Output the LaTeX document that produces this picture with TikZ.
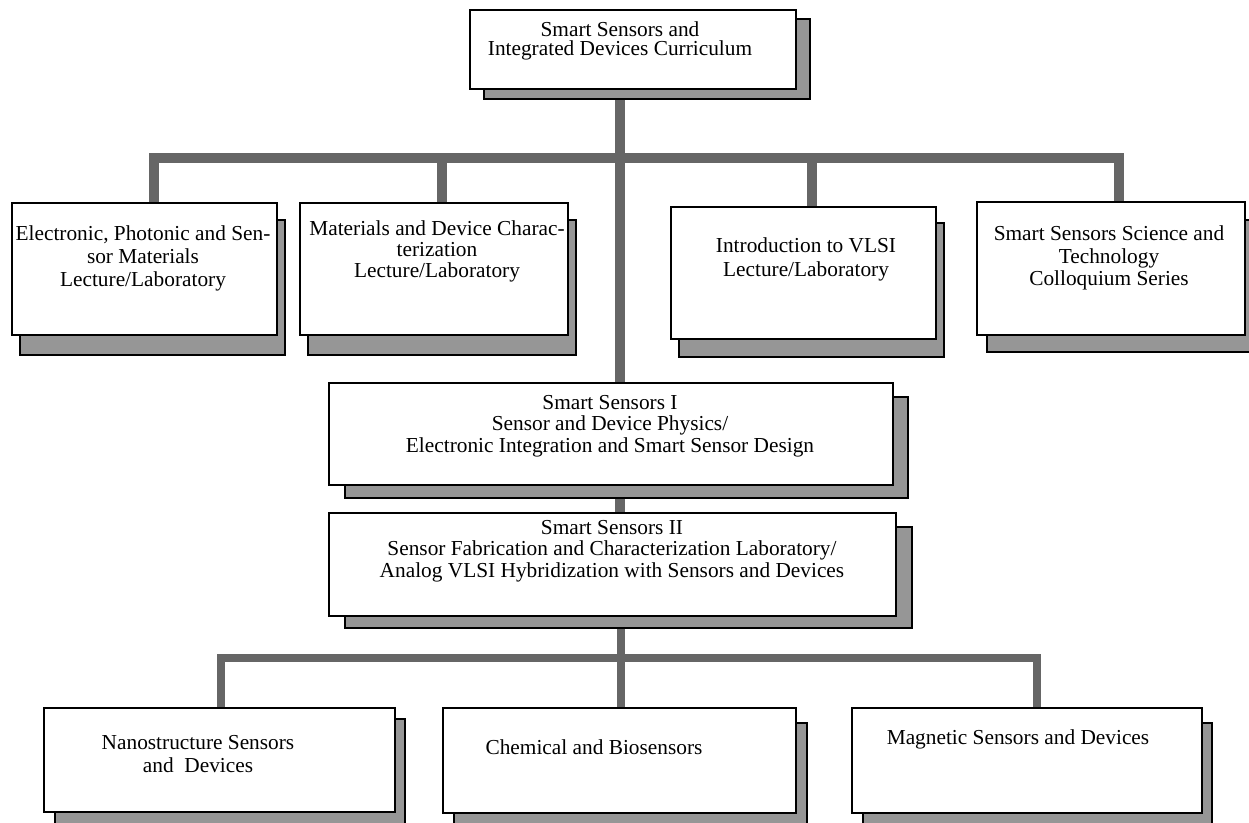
\documentclass[tikz,border=0pt]{standalone}
\usepackage{fontspec}
\setmainfont{Liberation Serif}
\usetikzlibrary{fit}
\pgfdeclarelayer{connlayer}
\pgfdeclarelayer{shadlayer}
\pgfsetlayers{connlayer,shadlayer,main}
\definecolor{conngray}{RGB}{102,102,102}
\definecolor{shadgray}{RGB}{150,150,150}
\tikzset{
  box/.style={draw=black, line width=1.5pt, fill=white, inner sep=0pt, outer sep=0pt, rectangle},
  shad/.style={draw=black, line width=1.5pt, fill=shadgray},
  conn/.style={draw=conngray, line width=7.5pt},
  connb/.style={draw=conngray, line width=6.2pt},
  txt/.style={align=center, anchor=north, inner sep=0pt, font=\fontsize{16}{#1}\selectfont},
}
\begin{document}
\begin{tikzpicture}[x=0.75pt,y=-0.75pt]
\useasboundingbox (0,0) rectangle (1249,823);
% boxes
\node[box, fit={(470,10)(796,89)}] (top) {};
\node[box, fit={(12,203)(277,335)}] (e1) {};
\node[box, fit={(300,203)(568,335)}] (e2) {};
\node[box, fit={(671,207)(936,339)}] (e3) {};
\node[box, fit={(977,202)(1245,335)}] (e4) {};
\node[box, fit={(329,383)(893,485)}] (s1) {};
\node[box, fit={(329,513)(896,616)}] (s2) {};
\node[box, fit={(44,708)(395,812)}] (b1) {};
\node[box, fit={(443,708)(796,813)}] (b2) {};
\node[box, fit={(852,708)(1202,813)}] (b3) {};
% shadows
\begin{pgfonlayer}{shadlayer}
\draw[shad] ([shift={(14,9)}]top.north west) rectangle ([shift={(14,10)}]top.south east);
\draw[shad] ([shift={(8,17)}]e1.north west) rectangle ([shift={(8,20)}]e1.south east);
\draw[shad] ([shift={(8,17)}]e2.north west) rectangle ([shift={(8,20)}]e2.south east);
\draw[shad] ([shift={(8,16)}]e3.north west) rectangle ([shift={(8,18)}]e3.south east);
\draw[shad] ([shift={(10,18)}]e4.north west) rectangle ([shift={(10,17)}]e4.south east);
\draw[shad] ([shift={(16,14)}]s1.north west) rectangle ([shift={(15,13)}]s1.south east);
\draw[shad] ([shift={(16,14)}]s2.north west) rectangle ([shift={(16,12)}]s2.south east);
\draw[shad] ([shift={(11,11)}]b1.north west) rectangle ([shift={(10,13)}]b1.south east);
\draw[shad] ([shift={(11,15)}]b2.north west) rectangle ([shift={(11,13)}]b2.south east);
\draw[shad] ([shift={(11,15)}]b3.north west) rectangle ([shift={(10,13)}]b3.south east);
\end{pgfonlayer}
% connectors
\coordinate (j1) at (620,158.5);
\coordinate (j2) at (621,658);
\coordinate (x1) at (154,158.5);
\coordinate (x2) at (442,158.5);
\coordinate (x3) at (812,158.5);
\coordinate (x4) at (1119,158.5);
\coordinate (y1) at (221,658);
\coordinate (y3) at (1037,658);
\begin{pgfonlayer}{connlayer}
\draw[conn] (top.south -| j1) -- (s1.north -| j1);
\draw[conn] (e1.north -| x1) |- (j1) -| (e4.north -| x4);
\draw[conn] (e2.north -| x2) -- (x2);
\draw[conn] (e3.north -| x3) -- (x3);
\draw[conn] (s1.south -| j1) -- (s2.north -| j1);
\draw[connb] (s2.south -| j2) -- (j2);
\draw[connb] (b1.north -| y1) |- (j2) -| (b3.north -| y3);
\draw[connb] (b2.north -| j2) -- (j2);
\end{pgfonlayer}
% texts
\node[txt=14.25pt] (ttop) at (620,21.7) {Smart Sensors and\\Integrated Devices Curriculum};
\node[txt=17.25pt] (te1) at (143,225.7) {Electronic, Photonic and Sen-\\sor Materials\\Lecture/Laboratory};
\node[txt=15.75pt] (te2) at (437,220.7) {Materials and Device Charac-\\terization\\Lecture/Laboratory};
\node[txt=18pt] (te3) at (806,237.7) {Introduction to VLSI\\Lecture/Laboratory};
\node[txt=16.9pt] (te4) at (1109,225.7) {Smart Sensors Science and\\Technology\\Colloquium Series};
\node[txt=16.1pt] (ts1) at (610,394.7) {Smart Sensors I\\Sensor and Device Physics/\\Electronic Integration and Smart Sensor Design};
\node[txt=16.1pt] (ts2) at (612,519.7) {Smart Sensors II\\Sensor Fabrication and Characterization Laboratory/\\Analog VLSI Hybridization with Sensors and Devices};
\node[txt=17.25pt] (tb1) at (198,734.7) {Nanostructure Sensors\\and\ \ Devices};
\node[txt=17.25pt] (tb2) at (594,739.7) {Chemical and Biosensors};
\node[txt=17.25pt] (tb3) at (1018,729.7) {Magnetic Sensors and Devices};
\end{tikzpicture}
\end{document}
